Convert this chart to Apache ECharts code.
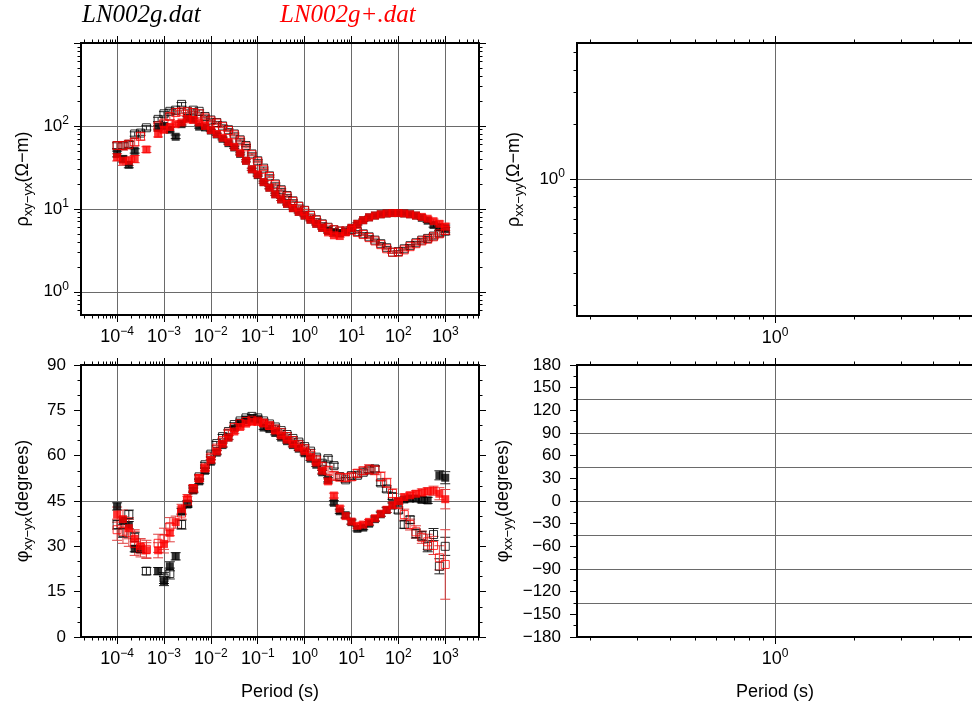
<!DOCTYPE html>
<html><head><meta charset="utf-8">
<script src="https://cdn.jsdelivr.net/npm/echarts@6/dist/echarts.min.js"></script>
<style>html,body{margin:0;padding:0;background:#fff}#c{width:972px;height:708px}</style>
</head><body><div id="c"></div><script>
// ---------------- DATA ----------------
const periods = [1.000e-4,1.334e-4,1.778e-4,2.371e-4,3.162e-4,4.217e-4,5.623e-4,7.499e-4,
  1.000e-3,1.334e-3,1.778e-3,2.371e-3,3.162e-3,4.217e-3,5.623e-3,7.499e-3,
  1.000e-2,1.334e-2,1.778e-2,2.371e-2,3.162e-2,4.217e-2,5.623e-2,7.499e-2,
  0.1000,0.1334,0.1778,0.2371,0.3162,0.4217,0.5623,0.7499,
  1.000,1.334,1.778,2.371,3.162,4.217,5.623,7.499,
  10.00,13.34,17.78,23.71,31.62,42.17,56.23,74.99,
  100.0,133.4,177.8,237.1,316.2,421.7,562.3,749.9,
  1000];
// LN002g.dat (black)
const rhoXY_g = [46,40,34,50,null,null,null,95, 100,90,74,105,125,120,98,96,
  88,79,70,62,55,46,38,30, 25.5,21,18,15,13,11.5,10.2,9.2,
  8.3,7.4,6.6,5.9,5.4,5.2,5.1,5.3, 5.9,6.6,7.3,7.9,8.3,8.6,8.8,8.9,
  8.9,8.8,8.6,8.3,7.8,7.2,6.4,6.0, 5.8];
const rhoYX_g = [58,58,60,80,82,95,null,120, 140,150,155,182,150,155,150,130,
  118,110,100,90,80,68,58,46, 38,31,25,20,17,14.5,12.5,10.8,
  9.6,8.4,7.4,6.6,6.0,5.6,5.4,5.4, 5.6,5.3,5.0,4.6,4.2,3.8,3.4,3.0,
  3.05,3.3,3.6,3.9,4.2,4.4,4.7,5.1, 5.4];
const phiXY_g = [43.2,38.5,37,29.2,29.0,null,null,21.8, 18.5,23.4,26.7,41.5,44,48.5,51.5,55,
  58,61,63.5,66,69,70.8,71.8,72.3, 72.0,69.3,68.8,67.5,66,64.8,63.5,62.3,
  60.8,59,57,54.5,52,44.4,41.6,40.3, 38,35.8,36.2,37.5,39,40.6,42,43.5,
  44.8,45.5,45.8,45.8,45.4,45.2,null,53.5, 52.7];
const phiYX_g = [37.2,34.5,40.5,33,null,21.8,null,null, 19.5,21,null,37.2,44,49,53,57,
  60.5,64,66.3,68,70.3,71.5,72.5,73, 72.5,71.5,70.5,69.5,68.3,67,65.7,64.5,
  63,61.5,59.5,57.5,59,56.7,53.1,52, 53.4,53.5,54.5,55.3,55.6,51,49,46.5,
  42,37.2,38.8,34.2,33.5,30,33.9,23.4, 30];
// LN002g+.dat (red)
const rhoXY_gp = [42,38,38,40,null,52,null,80, 90,97,105,110,120,118,110,100,
  89,80,72,64,56,47,38,30, 26,21,18,15,13,11.5,10.2,9.2,
  8.3,7.4,6.6,5.9,5.2,4.8,4.7,5.2, 5.9,6.6,7.3,7.9,8.3,8.6,8.8,8.9,
  8.9,8.8,8.6,8.3,8.0,7.6,7.1,6.6, 6.1];
const rhoYX_gp = [58,58,60,64,75,null,null,100, 108,130,145,148,148,145,140,125,
  115,108,98,88,78,66,56,45, 37,30,24.5,19.5,16.5,14.2,12.3,10.7,
  9.5,8.3,7.3,6.5,5.9,5.6,5.4,5.4, 5.5,5.2,4.9,4.5,4.1,3.7,3.3,3.0,
  3.0,3.2,3.5,3.8,4.1,4.3,4.6,5.0, 5.5];
const phiXY_gp = [40.5,39,36,32.5,30,28.7,null,28.7, 30.8,34.5,38,42.4,45.9,49.3,52.6,55.8,
  58.6,61.4,63.9,66,68,69.5,70.6,71.2, 71.3,70.8,69.8,68.3,66.7,65.3,63.9,62.7,
  61.5,59.6,57.7,55,51.5,46.8,42.5,40, 38.2,36.8,37.2,38.1,39.3,40.8,42.1,43.6,
  45.0,46.3,46.9,47.4,47.8,48.2,48.4,47.4, 45.6];
const phiYX_gp = [35.5,35,34.5,31,29.5,29,null,31, 32.5,36.5,null,41,45,49,52.5,56,
  59.5,62.5,65,67.5,69.3,70.6,71.3,71.7, 71.4,70.8,70,68.8,67.6,66.3,65,63.6,
  62.3,60.6,58.6,56.5,55,53.3,52.9,52.7, 53,54.2,55,55.5,55.2,53.1,51,47.5,
  44,40.5,37.2,34.8,33,31.5,30.3,26.2, 24];
// error estimates (relative for rho, degrees for phase)
const errRho_g = [0.08,0.08,0.08,0.06,0.06,0.06,0.06,0.06, 0.06,0.06,0.05,0.05,0.04,0.04,0.04,0.04,
  0.03,0.03,0.03,0.03,0.03,0.03,0.03,0.03, 0.03,0.03,0.03,0.03,0.03,0.03,0.03,0.03,
  0.03,0.03,0.03,0.03,0.03,0.03,0.03,0.03, 0.03,0.03,0.03,0.03,0.03,0.03,0.03,0.03,
  0.03,0.03,0.03,0.04,0.04,0.05,0.06,0.08, 0.10];
const errRho_gp = [0.10,0.12,0.12,0.10,0.10,0.08,0.08,0.08, 0.08,0.08,0.06,0.05,0.04,0.04,0.04,0.04,
  0.03,0.03,0.03,0.03,0.03,0.03,0.03,0.03, 0.03,0.03,0.03,0.03,0.03,0.03,0.03,0.03,
  0.03,0.03,0.03,0.03,0.03,0.03,0.03,0.03, 0.03,0.03,0.03,0.03,0.03,0.03,0.03,0.03,
  0.03,0.03,0.04,0.04,0.05,0.05,0.06,0.08, 0.10];
const errPhiXY_g = [1.2,1.2,1.2,1.0,1.0,1.0,1.0,1.2, 1.5,1.5,1.2,1.0,1.0,0.8,0.8,0.8,
  0.7,0.7,0.7,0.6,0.6,0.6,0.6,0.6, 0.6,0.6,0.6,0.6,0.6,0.6,0.6,0.6,
  0.6,0.6,0.6,0.6,0.7,0.7,0.7,0.7, 0.7,0.7,0.7,0.7,0.7,0.7,0.8,0.8,
  0.8,0.8,0.9,0.9,1.0,1.0,1.2,1.5, 2.0];
const errPhiYX_g = [1.5,1.5,1.5,1.5,1.5,1.2,1.2,1.5, 1.8,1.8,1.5,1.5,1.0,1.0,0.8,0.8,
  0.7,0.7,0.7,0.6,0.6,0.6,0.6,0.6, 0.6,0.6,0.6,0.6,0.6,0.6,0.6,0.6,
  0.6,0.6,0.7,0.7,0.8,0.8,0.8,0.8, 0.8,0.8,0.8,0.9,0.9,0.9,1.0,1.0,
  1.0,1.2,1.2,1.5,1.5,1.8,2.0,2.5, 3.0];
const errPhiXY_gp = [2.5,3.0,3.5,3.0,2.5,2.5,2.5,2.5, 3.0,3.0,2.0,1.5,1.2,1.0,1.0,0.9,
  0.8,0.8,0.8,0.7,0.7,0.7,0.7,0.7, 0.7,0.7,0.7,0.7,0.7,0.7,0.7,0.7,
  0.7,0.7,0.7,0.8,0.8,0.8,0.8,0.8, 0.8,0.8,0.8,0.8,0.8,0.8,0.9,0.9,
  0.9,1.0,1.0,1.0,1.2,1.2,1.5,2.0, 3.2];
const errPhiYX_gp = [3.5,4.0,4.5,4.0,3.0,3.0,3.0,3.0, 3.5,3.0,2.5,2.0,1.5,1.2,1.0,1.0,
  0.9,0.8,0.8,0.8,0.7,0.7,0.7,0.7, 0.7,0.7,0.7,0.7,0.7,0.7,0.7,0.8,
  0.8,0.8,1.0,1.2,1.5,1.5,1.2,1.2, 1.2,1.2,1.2,1.5,1.5,1.5,1.5,1.5,
  1.5,1.8,1.8,2.0,2.0,2.5,3.0,4.0, 11.5];
// tick labels
const xDecadesLeft = [-4,-3,-2,-1,0,1,2,3];
const xDecadesRight = [0];
const rhoDecadesLeft = [0,1,2];
const rhoDecadesRight = [0];
const titles = ['LN002g.dat','LN002g+.dat'];

// ---------------- LAYOUT ----------------
const FONT = '"Liberation Sans", Arial, Helvetica, sans-serif';
const X_L = [Math.pow(10,-4.77), Math.pow(10,3.72)];
const X_R = [Math.pow(10,-0.751), Math.pow(10,0.751)];
const RHO_L = [Math.pow(10,-0.28), 1000];
const RHO_R = [Math.pow(10,-0.757), Math.pow(10,0.75)];
const GRID_C = '#6a6a6a';

function minorLog(lo, hi){
  const out=[];
  for(let d=Math.floor(Math.log10(lo)); d<=Math.ceil(Math.log10(hi)); d++)
    for(let m=2;m<=9;m++){ const v=m*Math.pow(10,d); if(v>lo && v<hi) out.push(v); }
  return out;
}
function supLabel(v){
  const e=Math.round(Math.log10(v));
  return '{b|10}{s|'+(e<0?'\u2212'+(-e):e)+'}';
}
function richSup(bs, ss){
  return {b:{fontSize:bs,fontFamily:FONT,color:'#000',lineHeight:22},
          s:{fontSize:ss,fontFamily:FONT,color:'#000',verticalAlign:'top',lineHeight:11}};
}
const nameRich = {
  r:{fontSize:18,fontFamily:FONT,color:'#000',lineHeight:23},
  u:{fontSize:13,fontFamily:FONT,color:'#000',verticalAlign:'bottom',lineHeight:13}
};
const minusFmt = v => v<0 ? '\u2212'+(-v) : String(v);

const xAxes=[], yAxes=[];
const frame = {onZero:false, show:true, lineStyle:{color:'#000', width:2}};
function logAxes(list, dim, gi, ext, decades, labelDec, opts){
  const majors = decades.map(e=>Math.pow(10,e));
  const minors = minorLog(ext[0], ext[1]);
  const pos = dim==='x' ? ['bottom','top'] : ['left','right'];
  const base = {gridIndex:gi, type:'log', logBase:10, min:ext[0], max:ext[1],
    axisLine:frame, splitLine:{show:false}, axisLabel:{show:false}, axisTick:{show:false}};
  const main = Object.assign({}, base, {position:pos[0],
    axisTick:{show:true, customValues:majors, length:7, lineStyle:{color:'#000'}},
    axisLabel:{show:true, customValues:labelDec.map(e=>Math.pow(10,e)), formatter:supLabel,
      rich:richSup(dim==='x'?18:17, 12), margin: dim==='x'?11:12},
    splitLine:{show:true, lineStyle:{color:GRID_C, width:1}}}, opts||{});
  list.push(main); const idx=list.length-1;
  list.push(Object.assign({}, base, {position:pos[0], axisTick:{show:true, customValues:minors, length:3.5, lineStyle:{color:'#000'}}}));
  list.push(Object.assign({}, base, {position:pos[1], axisTick:{show:true, customValues:majors, length:7, lineStyle:{color:'#000'}}}));
  list.push(Object.assign({}, base, {position:pos[1], axisTick:{show:true, customValues:minors, length:3.5, lineStyle:{color:'#000'}}}));
  return idx;
}
function linYAxes(gi, mn, mx, step, minorSplit, margin, opts){
  const base = {gridIndex:gi, type:'value', min:mn, max:mx, interval:step,
    axisLine:frame, splitLine:{show:false},
    axisTick:{show:true, length:7, lineStyle:{color:'#000'}},
    minorTick:{show:true, splitNumber:minorSplit, length:3.5, lineStyle:{color:'#000'}}};
  yAxes.push(Object.assign({}, base, {position:'left',
    axisLabel:{show:true, fontSize:17, fontFamily:FONT, color:'#000', margin:margin, formatter:minusFmt}}, opts));
  const idx=yAxes.length-1;
  yAxes.push(Object.assign({}, base, {position:'right', axisLabel:{show:false}}));
  // grid lines every 45 degrees
  yAxes.push({gridIndex:gi, type:'value', min:mn, max:mx, interval:45, position:'left',
    axisLine:{show:false,onZero:false}, axisTick:{show:false}, axisLabel:{show:false},
    splitLine:{show:true, lineStyle:{color:GRID_C, width:1}}});
  return idx;
}
const periodName = {name:'Period (s)', nameLocation:'middle', nameGap:46,
  nameTextStyle:{fontSize:18, fontFamily:FONT, color:'#000'}};

const x0 = logAxes(xAxes,'x',0,X_L,xDecadesLeft,xDecadesLeft);
const x1 = logAxes(xAxes,'x',1,X_L,xDecadesLeft,xDecadesLeft,periodName);
const x2 = logAxes(xAxes,'x',2,X_R,xDecadesRight,xDecadesRight);
const x3 = logAxes(xAxes,'x',3,X_R,xDecadesRight,xDecadesRight,periodName);

const y0 = logAxes(yAxes,'y',0,RHO_L,[0,1,2,3],rhoDecadesLeft,{
  name:'{r|\u03c1}{u|xy\u2212yx}{r|(\u03a9\u2212m)}', nameLocation:'middle', nameRotate:90, nameGap:46,
  nameTextStyle:{rich:nameRich}});
const y1 = linYAxes(1,0,90,15,3,15,{
  name:'{r|\u03c6}{u|xy\u2212yx}{r|(degrees)}', nameLocation:'middle', nameRotate:90, nameGap:46,
  nameTextStyle:{rich:nameRich}});
const y2 = logAxes(yAxes,'y',2,RHO_R,[0],rhoDecadesRight,{
  name:'{r|\u03c1}{u|xx\u2212yy}{r|(\u03a9\u2212m)}', nameLocation:'middle', nameRotate:90, nameGap:51,
  nameTextStyle:{rich:nameRich}});
const y3 = linYAxes(3,-180,180,30,2,16,{
  name:'{r|\u03c6}{u|xx\u2212yy}{r|(degrees)}', nameLocation:'middle', nameRotate:90, nameGap:62,
  nameTextStyle:{rich:nameRich}});

// ---------------- SERIES ----------------
function pts(vals){ const o=[]; vals.forEach((v,i)=>{ if(v!=null) o.push([periods[i], v]); }); return o; }
function errRel(vals, rel){ const o=[]; vals.forEach((v,i)=>{ if(v!=null) o.push([periods[i], v*(1-rel[i]), v*(1+rel[i])]); }); return o; }
function errAbs(vals, ab){ const o=[]; vals.forEach((v,i)=>{ if(v!=null) o.push([periods[i], v-ab[i], v+ab[i]]); }); return o; }
function errSeries(xi, yi, data, color){
  return {type:'custom', xAxisIndex:xi, yAxisIndex:yi, data:data, silent:true, clip:true,
    renderItem:(params, api)=>{
      const x=api.value(0), p1=api.coord([x, api.value(1)]), p2=api.coord([x, api.value(2)]);
      const cw=5, st={stroke:color, lineWidth:1};
      return {type:'group', children:[
        {type:'line', shape:{x1:p1[0],y1:p1[1],x2:p2[0],y2:p2[1]}, style:st},
        {type:'line', shape:{x1:p1[0]-cw,y1:p1[1],x2:p1[0]+cw,y2:p1[1]}, style:st},
        {type:'line', shape:{x1:p2[0]-cw,y1:p2[1],x2:p2[0]+cw,y2:p2[1]}, style:st}]};
    }};
}
function marks(xi, yi, data, color, filled){
  return {type:'scatter', xAxisIndex:xi, yAxisIndex:yi, data:data, symbol:'rect', symbolSize:8, silent:true,
    itemStyle: filled ? {color:color} : {color:'rgba(255,255,255,0)', borderColor:color, borderWidth:1}};
}
const BLK='#000', RED='#ff0000', BLKE='#222', REDE='#e04040';
const series = [
  errSeries(x0,y0,errRel(rhoXY_g,errRho_g),BLKE), errSeries(x0,y0,errRel(rhoYX_g,errRho_g),BLKE),
  marks(x0,y0,pts(rhoXY_g),BLK,true), marks(x0,y0,pts(rhoYX_g),BLK,false),
  errSeries(x0,y0,errRel(rhoXY_gp,errRho_gp),REDE), errSeries(x0,y0,errRel(rhoYX_gp,errRho_gp),REDE),
  marks(x0,y0,pts(rhoXY_gp),RED,true), marks(x0,y0,pts(rhoYX_gp),RED,false),

  errSeries(x1,y1,errAbs(phiXY_g,errPhiXY_g),BLKE), errSeries(x1,y1,errAbs(phiYX_g,errPhiYX_g),BLKE),
  marks(x1,y1,pts(phiXY_g),BLK,true), marks(x1,y1,pts(phiYX_g),BLK,false),
  errSeries(x1,y1,errAbs(phiXY_gp,errPhiXY_gp),REDE), errSeries(x1,y1,errAbs(phiYX_gp,errPhiYX_gp),REDE),
  marks(x1,y1,pts(phiXY_gp),RED,true), marks(x1,y1,pts(phiYX_gp),RED,false)
];

const chart = echarts.init(document.getElementById('c'), null, {renderer:'canvas'});
chart.setOption({
  animation:false, backgroundColor:'#fff',
  title:[
    {text:titles[0], left:82, top:3, padding:0, textStyle:{fontFamily:'"Liberation Serif", "Times New Roman", serif', fontStyle:'italic', fontWeight:'normal', fontSize:25, color:'#000'}},
    {text:titles[1], left:280, top:3, padding:0, textStyle:{fontFamily:'"Liberation Serif", "Times New Roman", serif', fontStyle:'italic', fontWeight:'normal', fontSize:25, color:'#ff0000'}}
  ],
  grid:[
    {left:81, top:43, width:398, height:272, containLabel:false, outerBoundsMode:'none'},
    {left:81, top:365, width:398, height:272, containLabel:false, outerBoundsMode:'none'},
    {left:577, top:43, width:396, height:273, containLabel:false, outerBoundsMode:'none'},
    {left:577, top:365, width:396, height:272, containLabel:false, outerBoundsMode:'none'}
  ],
  xAxis:xAxes, yAxis:yAxes, series:series
});
</script></body></html>
